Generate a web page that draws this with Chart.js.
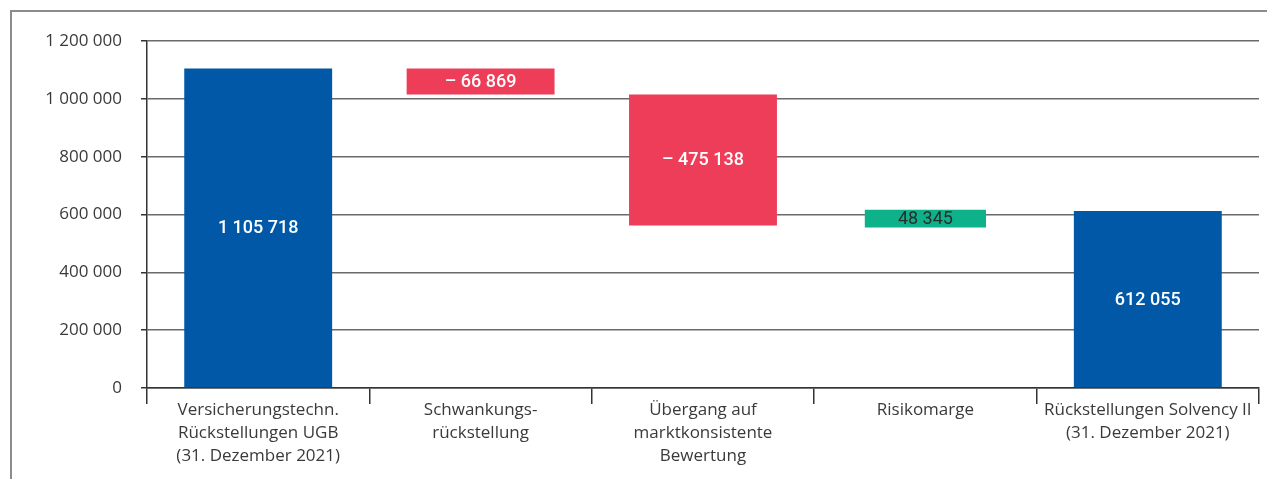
<!DOCTYPE html>
<html>
<head>
<meta charset="utf-8">
<script src="https://cdn.jsdelivr.net/npm/chart.js@4.4.9/dist/chart.umd.min.js"></script>
<style>
  html, body { margin: 0; padding: 0; background: #fff; }
  #frame {
    position: absolute; left: 10px; top: 10px;
    border-left: 2px solid #8c8c8c; border-top: 2px solid #8c8c8c;
    width: 1255px; height: 467px;
  }
  canvas { display: block; }
</style>
</head>
<body>
<div id="frame"><canvas id="waterfall" width="1255" height="467"></canvas></div>
<script>
// categories (x axis, multi-line)
const categories = [
    ['Versicherungstechn.', 'Rückstellungen UGB', '(31. Dezember 2021)'],
    ['Schwankungs-', 'rückstellung'],
    ['Übergang auf', 'marktkonsistente', 'Bewertung'],
    ['Risikomarge'],
    ['Rückstellungen Solvency II', '(31. Dezember 2021)']
];
// bar bottoms / tops
const barLow = [0, 1016000, 562000, 555000, 0];
const barHigh = [1105718, 1105718, 1016000, 617000, 612055];
// printed values
const valueLabels = ['1 105 718', '– 66 869', '– 475 138', '48 345', '612 055'];
// bar kind: total / decrease / increase
const barKind = ['total', 'decrease', 'decrease', 'increase', 'total'];
// y ticks
const yTicks = [0, 200000, 400000, 600000, 800000, 1000000, 1200000];

const kindColor = { total: '#0058a7', decrease: '#ee3d58', increase: '#0db28b' };
const kindText = { total: '#ffffff', decrease: '#ffffff', increase: '#2b2b2b' };
const kindWeight = { total: '500', decrease: '500', increase: '400' };
const FONT = '"Open Sans", "DejaVu Sans", sans-serif';
const LABEL_FONT = 'Roboto, "Open Sans", sans-serif';

const fmt = v => String(v).replace(/\B(?=(\d{3})+(?!\d))/g, ' ');

// increase bar is drawn narrower than the others
const isNarrow = i => barKind[i] === 'increase';
const wideData = categories.map((_, i) => isNarrow(i) ? null : [barLow[i], barHigh[i]]);
const narrowData = categories.map((_, i) => isNarrow(i) ? [barLow[i], barHigh[i]] : null);

const valueLabelPlugin = {
    id: 'valueLabels',
    afterDatasetsDraw(chart) {
        const ctx = chart.ctx;
        ctx.save();
        ctx.textAlign = 'center';
        ctx.textBaseline = 'middle';
        chart.data.datasets.forEach((ds, di) => {
            chart.getDatasetMeta(di).data.forEach((bar, i) => {
                if (ds.data[i] == null) return;
                ctx.font = kindWeight[barKind[i]] + ' 18px ' + LABEL_FONT;
                ctx.fillStyle = kindText[barKind[i]];
                ctx.fillText(valueLabels[i], bar.x, (bar.y + bar.base) / 2 + 1);
            });
        });
        ctx.restore();
    }
};

const ctx = document.getElementById('waterfall').getContext('2d');

new Chart(ctx, {
    type: 'bar',
    data: {
        labels: categories,
        datasets: [
            {
                data: wideData,
                backgroundColor: categories.map((_, i) => kindColor[barKind[i]]),
                barPercentage: 0.665,
                categoryPercentage: 1,
                grouped: false,
                borderSkipped: false
            },
            {
                data: narrowData,
                backgroundColor: categories.map((_, i) => kindColor[barKind[i]]),
                barPercentage: 0.545,
                categoryPercentage: 1,
                grouped: false,
                borderSkipped: false
            }
        ]
    },
    options: {
        responsive: false,
        animation: false,
        // the y scale adds half a label height on top of this
        layout: { padding: { top: 15.3, right: 8, left: 0, bottom: 0 } },
        plugins: {
            legend: { display: false },
            tooltip: { enabled: false }
        },
        scales: {
            x: {
                offset: true,
                grid: {
                    offset: true,
                    drawOnChartArea: false,
                    drawTicks: true,
                    tickLength: 16,
                    color: '#333',
                    lineWidth: 1.5
                },
                border: { color: '#333', width: 1.5 },
                ticks: {
                    color: '#3a3a3a',
                    font: { family: FONT, size: 17, lineHeight: 1.38 },
                    padding: -6,
                    maxRotation: 0,
                    autoSkip: false
                },
                afterFit: s => { s.height = 91; }
            },
            y: {
                min: 0,
                max: 1200000,
                afterBuildTicks: s => { s.ticks = yTicks.map(v => ({ value: v })); },
                grid: {
                    color: '#6a6a6a',
                    lineWidth: 1.5,
                    drawTicks: true,
                    tickLength: 6,
                    tickColor: '#333'
                },
                border: { color: '#333', width: 1.5 },
                ticks: {
                    color: '#3a3a3a',
                    font: { family: FONT, size: 17 },
                    padding: 19,
                    callback: v => fmt(v)
                },
                afterFit: s => { s.width = 135; }
            }
        }
    },
    plugins: [valueLabelPlugin]
});
</script>
</body>
</html>
